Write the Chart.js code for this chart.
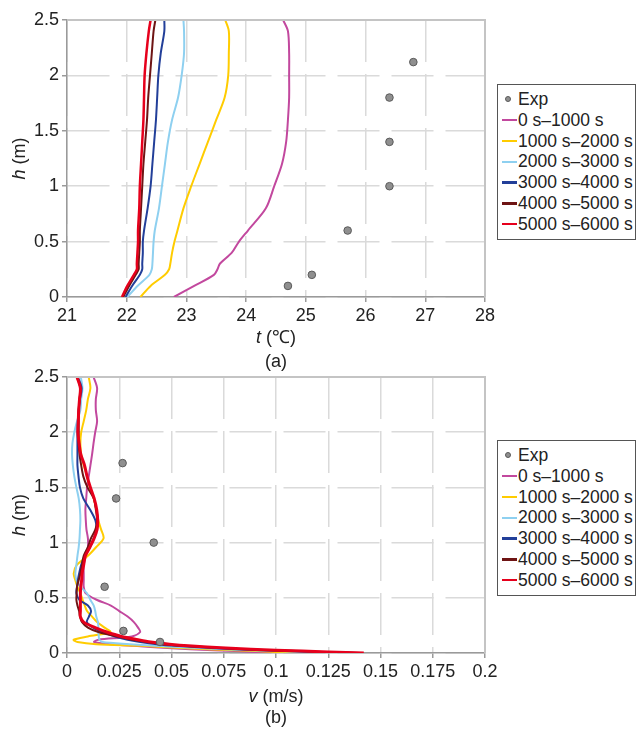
<!DOCTYPE html>
<html>
<head>
<meta charset="utf-8">
<script src="https://cdn.jsdelivr.net/npm/chart.js@4.4.1/dist/chart.umd.min.js"></script>
<style>
  body{margin:0;background:#fff;font-family:"Liberation Sans",Arial,sans-serif;}
  #wrap{position:relative;width:640px;height:729px;overflow:hidden;}
  canvas{position:absolute;left:0;}
  .lg{position:absolute;left:497px;width:137px;height:152px;border:1px solid #555;background:#fff;font-size:17.5px;color:#222;padding-top:4px;box-sizing:content-box;}
  .lg .row{display:flex;align-items:center;height:20.8px;white-space:nowrap;}
  .lg .sym{display:inline-block;width:15px;height:2.5px;margin-left:4px;margin-right:1px;}
  .lg .dot{display:inline-block;width:6px;height:6px;border-radius:50%;background:#8f8f8f;border:1px solid #5a5a5a;box-sizing:border-box;margin-left:7px;margin-right:7px;}
</style>
</head>
<body>
<div id="wrap">
  <canvas id="chA" width="640" height="372" style="top:0"></canvas>
  <canvas id="chB" width="640" height="372" style="top:357px"></canvas>
  <div class="lg" id="lgA" style="top:84px;height:150px"></div>
  <div class="lg" id="lgB" style="top:440px;height:150px"></div>
</div>
<script>
/* ---- (a) temperature profiles: h (m) vs t (°C) ---- */
const hA  = [0, 0.1, 0.2, 0.25, 0.3, 0.4, 0.5, 0.6, 0.8, 1.0, 1.2, 1.4, 1.6, 1.8, 2.0, 2.2, 2.4, 2.5];
const tA0 = [22.79, 23.13, 23.46, 23.52, 23.56, 23.76, 23.88, 24.03, 24.33, 24.47, 24.60, 24.67, 24.70, 24.72, 24.72, 24.72, 24.70, 24.62];
const tA1 = [22.23, 22.40, 22.64, 22.71, 22.73, 22.76, 22.80, 22.85, 22.95, 23.08, 23.22, 23.36, 23.50, 23.64, 23.70, 23.71, 23.71, 23.65];
const tA2 = [22.01, 22.18, 22.38, 22.42, 22.43, 22.44, 22.45, 22.47, 22.54, 22.59, 22.64, 22.69, 22.76, 22.86, 22.92, 22.96, 22.96, 22.95];
const tA3 = [21.98, 22.09, 22.22, 22.26, 22.26, 22.27, 22.27, 22.29, 22.35, 22.40, 22.43, 22.46, 22.49, 22.51, 22.53, 22.57, 22.63, 22.63];
const tA4 = [21.94, 22.04, 22.15, 22.20, 22.20, 22.21, 22.22, 22.22, 22.24, 22.26, 22.28, 22.31, 22.34, 22.36, 22.39, 22.42, 22.45, 22.48];
const tA5 = [21.92, 22.01, 22.12, 22.17, 22.17, 22.18, 22.19, 22.19, 22.21, 22.22, 22.24, 22.26, 22.28, 22.29, 22.30, 22.33, 22.37, 22.40];
const expT  = [24.7, 25.1, 25.7, 26.4, 26.4, 26.4, 26.8];
const expTH = [0.1, 0.2, 0.6, 1.0, 1.4, 1.8, 2.12];

/* ---- (b) velocity profiles: h (m) vs v (m/s) ---- */
const hB  = [0, 0.01, 0.025, 0.045, 0.065, 0.08, 0.1, 0.12, 0.15, 0.19, 0.23, 0.28, 0.33, 0.38, 0.43, 0.48, 0.54, 0.6, 0.66, 0.72, 0.8, 0.88, 0.96, 1.04, 1.12, 1.2, 1.3, 1.4, 1.5, 1.6, 1.7, 1.8, 1.9, 2.0, 2.1, 2.2, 2.3, 2.4, 2.5];
const vB0 = [0.108, 0.090, 0.070, 0.048, 0.032, 0.021, 0.013, 0.015, 0.031, 0.035, 0.034, 0.032, 0.029, 0.025, 0.021, 0.0144, 0.009, 0.008, 0.008, 0.008, 0.008, 0.009, 0.010, 0.010, 0.0093, 0.009, 0.0088, 0.0092, 0.0096, 0.0104, 0.0112, 0.012, 0.0127, 0.0135, 0.0144, 0.0138, 0.0138, 0.0144, 0.0127];
const vB1 = [0.121, 0.100, 0.080, 0.055, 0.036, 0.014, 0.005, 0.0032, 0.010, 0.0207, 0.018, 0.0144, 0.012, 0.0096, 0.0085, 0.0075, 0.0064, 0.005, 0.004, 0.0032, 0.0048, 0.010, 0.014, 0.0175, 0.0163, 0.015, 0.014, 0.0128, 0.011, 0.0096, 0.008, 0.0068, 0.0064, 0.0068, 0.008, 0.0092, 0.010, 0.0112, 0.0104];
const vB2 = [0.135, 0.113, 0.088, 0.063, 0.042, 0.030, 0.017, 0.0155, 0.0152, 0.015, 0.015, 0.0148, 0.014, 0.0135, 0.0128, 0.0112, 0.0096, 0.0065, 0.0045, 0.004, 0.0045, 0.005, 0.0056, 0.006, 0.0062, 0.0064, 0.0062, 0.0056, 0.0045, 0.0035, 0.0028, 0.0024, 0.0026, 0.0035, 0.0048, 0.0064, 0.0068, 0.0074, 0.0066];
const vB3 = [0.138, 0.118, 0.093, 0.069, 0.052, 0.043, 0.035, 0.029, 0.023, 0.017, 0.0125, 0.0095, 0.0105, 0.0115, 0.010, 0.006, 0.0045, 0.0048, 0.0052, 0.0058, 0.0068, 0.0085, 0.011, 0.0128, 0.014, 0.0136, 0.011, 0.0078, 0.0062, 0.0055, 0.005, 0.005, 0.005, 0.005, 0.0052, 0.0056, 0.0062, 0.007, 0.0052];
const vB4 = [0.140, 0.122, 0.097, 0.073, 0.056, 0.046, 0.038, 0.031, 0.024, 0.015, 0.010, 0.0072, 0.0062, 0.0058, 0.005, 0.0045, 0.0046, 0.0048, 0.0056, 0.0064, 0.0072, 0.008, 0.010, 0.0115, 0.0136, 0.0144, 0.0138, 0.0128, 0.0098, 0.0078, 0.0068, 0.006, 0.0056, 0.0056, 0.0056, 0.0056, 0.006, 0.0064, 0.0048];
const vB5 = [0.142, 0.125, 0.100, 0.076, 0.058, 0.049, 0.040, 0.034, 0.026, 0.019, 0.0135, 0.008, 0.0064, 0.0064, 0.0064, 0.0064, 0.0064, 0.0066, 0.007, 0.0072, 0.008, 0.0088, 0.011, 0.013, 0.0144, 0.0147, 0.0142, 0.013, 0.0112, 0.0096, 0.0084, 0.0066, 0.0058, 0.0052, 0.0054, 0.0056, 0.006, 0.0064, 0.0048];
const expV  = [0.0445, 0.027, 0.018, 0.0415, 0.0235, 0.0266];
const expVH = [0.1, 0.2, 0.6, 1.0, 1.4, 1.72];

/* ---- axis ticks & series names ---- */
const tTicks = [21, 22, 23, 24, 25, 26, 27, 28];
const vTicks = [0, 0.025, 0.05, 0.075, 0.1, 0.125, 0.15, 0.175, 0.2];
const hTicks = [0, 0.5, 1, 1.5, 2, 2.5];
const names  = ['0 s–1000 s', '1000 s–2000 s', '2000 s–3000 s', '3000 s–4000 s', '4000 s–5000 s', '5000 s–6000 s'];

// styles
const colors = ['#c2489e', '#ffcc00', '#8ed0f0', '#223f99', '#6e1414', '#e6001c'];
const widthsA = [2, 2, 2, 2, 2, 2.5];
const widthsB = [2, 2, 2, 2, 2, 3];
const FAM = '"Liberation Sans", Arial, sans-serif';
Chart.defaults.font.family = FAM;

function pairs(xs, ys){ return xs.map((x,i)=>({x, y:ys[i]})); }

function drawParts(ctx, parts, cx, y){
  const fonts = parts.map(p => p[0] + '18px ' + FAM);
  let w = 0;
  parts.forEach((p,i)=>{ ctx.font = fonts[i]; w += ctx.measureText(p[1]).width; });
  let x = cx - w/2;
  ctx.textAlign = 'left';
  parts.forEach((p,i)=>{ ctx.font = fonts[i]; ctx.fillText(p[1], x, y); x += ctx.measureText(p[1]).width; });
}

// frame on top/right + axis titles (mixed italic) + panel label
const decor = {
  id:'decor',
  afterDraw(chart, args, o){
    const {ctx, chartArea:a} = chart;
    ctx.save();
    ctx.strokeStyle = '#c4c4c4'; ctx.lineWidth = 2;
    ctx.beginPath(); ctx.moveTo(a.left, a.top); ctx.lineTo(a.right, a.top); ctx.lineTo(a.right, a.bottom); ctx.stroke();
    ctx.fillStyle = '#222'; ctx.textBaseline = 'middle';
    const cx = (a.left + a.right)/2;
    drawParts(ctx, o.xTitle, cx, o.xTitleY);
    drawParts(ctx, [['', o.panel]], cx, o.panelY);
    ctx.translate(20, (a.top + a.bottom)/2);
    ctx.rotate(-Math.PI/2);
    drawParts(ctx, [['italic ', 'h'], ['', ' (m)']], 0, 0);
    ctx.restore();
  }
};

function axis(min, max, ticks, fit){
  return {
    type:'linear', min, max,
    afterBuildTicks: s => { s.ticks = ticks.map(v=>({value:v})); },
    afterFit: fit,
    ticks:{color:'#222', font:{size:18}, padding:3, maxRotation:0, autoSkip:false, callback: v => String(v)},
    grid:{color:'#dadada', lineWidth:1.5, tickColor:'#9a9a9a', tickLength:5, tickWidth:1.5, tickBorderDash:[]},
    border:{color:'#9a9a9a', width:1.5, dash:[42,12]}
  };
}

function makeChart(id, xs, hs, ex, exH, xMin, xMax, xTicks, xHeight, widths, deco){
  const ds = [{
    label:'Exp', data:pairs(ex, exH), showLine:false, order:0,
    pointRadius:3.8, backgroundColor:'#8f8f8f', borderColor:'#5a5a5a', borderWidth:1
  }];
  xs.forEach((arr,i)=>ds.push({
    label:names[i], data:pairs(arr, hs), showLine:true, order:6-i,
    borderColor:colors[i], backgroundColor:colors[i], borderWidth:widths[i],
    pointRadius:0, tension:0.3, fill:false
  }));
  return new Chart(document.getElementById(id), {
    type:'scatter', data:{datasets:ds}, plugins:[decor],
    options:{
      responsive:false, animation:false, devicePixelRatio:1,
      layout:{padding:{top:20, right:155, left:0, bottom:0}},
      plugins:{legend:{display:false}, tooltip:{enabled:false}, decor:deco},
      scales:{
        x: axis(xMin, xMax, xTicks, s=>{ s.height = xHeight; }),
        y: axis(0, 2.5, hTicks, s=>{ s.width = 67; })
      }
    }
  });
}

function buildLegend(id){
  const el = document.getElementById(id);
  el.innerHTML = '<div class="row"><span class="dot"></span>Exp</div>' +
    names.map((n,i)=>`<div class="row"><span class="sym" style="background:${colors[i]}"></span>${n}</div>`).join('');
}

makeChart('chA', [tA0,tA1,tA2,tA3,tA4,tA5], hA, expT, expTH, 21, 28, tTicks, 75, widthsA,
  {xTitle:[['italic ','t'],['',' (℃)']], xTitleY:338, panel:'(a)', panelY:362});
makeChart('chB', [vB0,vB1,vB2,vB3,vB4,vB5], hB, expV, expVH, 0, 0.2, vTicks, 76, widthsB,
  {xTitle:[['italic ','v'],['',' (m/s)']], xTitleY:340, panel:'(b)', panelY:361});
buildLegend('lgA');
buildLegend('lgB');
</script>
</body>
</html>
